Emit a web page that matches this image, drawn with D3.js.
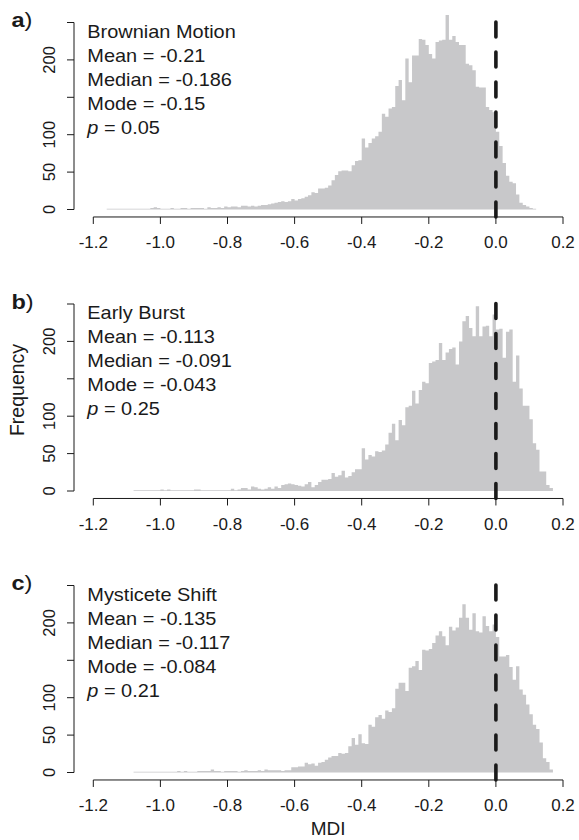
<!DOCTYPE html>
<html>
<head>
<meta charset="utf-8">
<script src="https://cdn.jsdelivr.net/npm/d3@7"></script>
<style>
  html, body { margin: 0; padding: 0; background: #fff; }
  svg { display: block; font-family: "Liberation Sans", Arial, Helvetica, sans-serif; }
</style>
</head>
<body>
<div id="chart"></div>
<script>
// ------------------------------------------------------------
// MDI null distributions — three stacked histograms (bin 0.01)
// ------------------------------------------------------------

const BIN_W = 0.01;

// lower edge of the first bin in each panel
const binStart = [-1.16, -1.08, -1.08];

// counts per bin
const countsBM = [
  1,1,1,1,1,1,1,1,1,1,1,1,1,
  2,3,2,1,1,1,2,1,1,2,
  2,1,2,2,2,2,1,3,2,2,
  3,2,4,3,4,4,3,5,5,4,
  5,4,5,6,6,7,8,9,10,11,
  10,11,14,12,14,15,17,19,23,22,
  28,28,29,32,
  39,46,51,52,52,51,59,65,66,95,
  83,89,95,98,104,128,124,135,137,165,
  173,146,202,170,206,206,228,227,220,208,
  202,224,226,227,260,227,232,224,220,220,
  195,193,186,164,163,163,137,133,130,104,
  85,62,45,37,35,20,9,6,4,2,1
];

const countsEB = [
  1,1,1,1,1,1,1,1,2,1,2,1,1,1,1,1,1,1,2,2,1,1,1,1,1,1,1,1,1,
  3,1,2,4,4,2,6,5,3,2,3,5,3,6,4,8,9,10,9,8,7,
  6,9,12,5,8,12,15,15,16,24,19,21,27,18,20,25,29,29,57,42,48,46,53,52,54,
  62,78,90,68,95,88,112,114,134,117,135,146,144,
  171,173,175,198,175,185,190,192,169,200,227,234,218,207,247,207,220,221,207,236,
  216,217,178,213,216,146,181,137,114,114,96,64,55,26,26,8,4
];

const countsMS = [
  1,1,1,1,1,1,1,1,1,1,1,1,1,2,1,
  2,1,1,1,2,2,2,2,4,2,
  2,1,2,2,2,2,1,2,3,2,
  2,2,3,2,4,3,3,3,3,2,3,3,7,7,8,
  8,13,11,12,9,13,14,17,20,22,22,26,25,26,35,46,37,51,39,38,
  64,61,74,77,72,83,81,86,112,120,120,109,140,142,149,137,164,163,
  165,173,183,189,182,170,195,190,194,207,225,207,191,213,189,187,209,196,189,198,
  181,155,155,157,141,124,142,111,104,91,78,64,58,40,19,14,4
];

const panelLetters = ['a', 'b', 'c'];
const modelNames = ['Brownian Motion', 'Early Burst', 'Mysticete Shift'];
const meanLabels = ['-0.21', '-0.113', '-0.135'];
const medianLabels = ['-0.186', '-0.091', '-0.117'];
const modeLabels = ['-0.15', '-0.043', '-0.084'];
const pLabels = ['0.05', '0.25', '0.21'];

const xTicks = [-1.2, -1.0, -0.8, -0.6, -0.4, -0.2, 0.0, 0.2];
const yTicks = [0, 50, 100, 150, 200, 250];
const yTickLabels = ['0', '50', '100', '', '200', ''];

const allCounts = [countsBM, countsEB, countsMS];

// ------------------------------------------------------------
const W = 579, H = 840;
const PANEL_H = 281.5;
const BASE0 = 209.5;          // baseline (count 0) of panel a
const AXIS_X = 74;            // y-axis line
const INK = '#1a1a1a';
const BAR = '#c8c8ca';

const svg = d3.select('#chart').append('svg').attr('width', W).attr('height', H);

const x = d3.scaleLinear().domain([-1.2, 0.2]).range([93.3, 563]);

allCounts.forEach((counts, i) => {
  const base = BASE0 + i * PANEL_H;
  const y = d3.scaleLinear().domain([0, 250]).range([base, base - 187]);
  const g = svg.append('g');

  // bins -> step outline (one extra point closes the last bin)
  const bins = counts.map((c, k) => ({ lo: binStart[i] + k * BIN_W, c }));
  bins.push({ lo: binStart[i] + counts.length * BIN_W, c: 0 });

  // Bars as one stepped area, so adjacent bins show no seams
  g.append('path')
    .datum(bins)
    .attr('d', d3.area()
      .x(d => x(d.lo))
      .y0(y(0))
      .y1(d => y(d.c))
      .curve(d3.curveStepAfter))
    .attr('fill', BAR);

  // Zero line — dashed, drawn bottom to top
  g.append('path')
    .attr('d', d3.line()([[x(0), y(-10)], [x(0), y(260)]]))
    .attr('stroke', INK)
    .attr('stroke-width', 3.6)
    .attr('stroke-dasharray', '15,15')
    .attr('stroke-linecap', 'round')
    .attr('fill', 'none');

  // X axis
  const axY = y(-10);
  g.append('line')
    .attr('x1', x(xTicks[0])).attr('x2', x(xTicks[xTicks.length - 1]))
    .attr('y1', axY).attr('y2', axY)
    .attr('stroke', INK).attr('stroke-width', 1);
  g.append('g').selectAll('line').data(xTicks).join('line')
    .attr('x1', d => x(d)).attr('x2', d => x(d))
    .attr('y1', axY).attr('y2', axY + 7)
    .attr('stroke', INK).attr('stroke-width', 1);
  g.append('g').selectAll('text').data(xTicks).join('text')
    .attr('x', d => x(d))
    .attr('y', axY + 31.5)
    .attr('text-anchor', 'middle')
    .attr('font-size', '17px')
    .attr('fill', INK)
    .text(d => d3.format('.1f')(d).replace('−', '-'));

  // Y axis
  g.append('line')
    .attr('x1', AXIS_X).attr('x2', AXIS_X)
    .attr('y1', y(0)).attr('y2', y(250))
    .attr('stroke', INK).attr('stroke-width', 1);
  g.append('g').selectAll('line').data(yTicks).join('line')
    .attr('x1', AXIS_X - 7).attr('x2', AXIS_X)
    .attr('y1', d => y(d)).attr('y2', d => y(d))
    .attr('stroke', INK).attr('stroke-width', 1);
  g.append('g').selectAll('text').data(yTicks).join('text')
    .attr('transform', d => `translate(55,${y(d)}) rotate(-90)`)
    .attr('text-anchor', 'middle')
    .attr('font-size', '16.5px')
    .attr('fill', INK)
    .text((d, k) => yTickLabels[k]);

  // Panel letter
  const letter = g.append('text')
    .attr('transform', `translate(11.5,${base - 182.5}) scale(1.12,1)`)
    .attr('font-size', '21px')
    .attr('fill', INK);
  letter.append('tspan').attr('font-weight', 'bold').text(panelLetters[i]);
  letter.append('tspan').text(')');

  // Stats block
  const lines = [
    modelNames[i],
    'Mean = ' + meanLabels[i],
    'Median = ' + medianLabels[i],
    'Mode = ' + modeLabels[i]
  ];
  const top = base - 172;
  lines.forEach((s, k) => {
    g.append('text')
      .attr('transform', `translate(87.3,${top + k * 24}) scale(1.14,1)`)
      .attr('font-size', '17.5px')
      .attr('fill', INK)
      .text(s);
  });
  const pt = g.append('text')
    .attr('transform', `translate(87.3,${top + 4 * 24}) scale(1.14,1)`)
    .attr('font-size', '17.5px')
    .attr('fill', INK);
  pt.append('tspan').attr('font-style', 'italic').text('p');
  pt.append('tspan').text(' = ' + pLabels[i]);
});

// Axis titles
svg.append('text')
  .attr('transform', 'translate(24,390) rotate(-90)')
  .attr('text-anchor', 'middle')
  .attr('font-size', '19.5px')
  .attr('fill', INK)
  .text('Frequency');

svg.append('text')
  .attr('x', x(-0.5))
  .attr('y', 835)
  .attr('text-anchor', 'middle')
  .attr('font-size', '19px')
  .attr('fill', INK)
  .text('MDI');
</script>
</body>
</html>
